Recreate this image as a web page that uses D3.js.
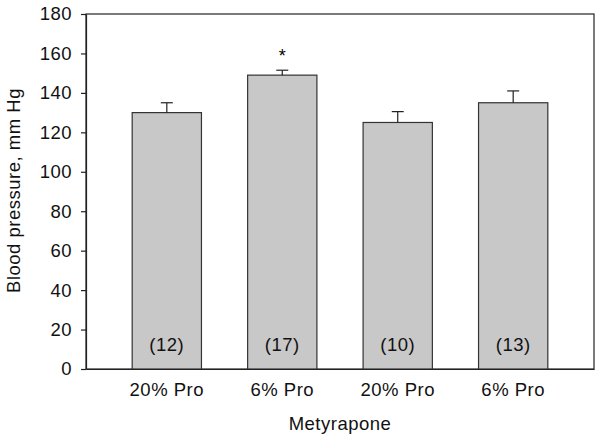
<!DOCTYPE html>
<meta charset="utf-8">
<style>
  body { margin: 0; background: #fff; }
  text { font-family: "Liberation Sans", Arial, sans-serif; letter-spacing: 0.5px; }
</style>
<body>
  <div id="chart"></div>
  <script src="https://d3js.org/d3.v7.min.js"></script>
  <script>
    // values
    var groups = ["20% Pro", "6% Pro", "20% Pro", "6% Pro"];
    var means = [130, 149, 125, 135];
    var errors = [5, 2.5, 5.5, 6];
    var counts = ["(12)", "(17)", "(10)", "(13)"];
    var stars = ["", "*", "", ""];
    var yTicks = [0, 20, 40, 60, 80, 100, 120, 140, 160, 180];

    var margin = { top: 14, right: 6, bottom: 68, left: 86 },
      width = 600 - margin.left - margin.right,
      height = 437 - margin.top - margin.bottom;

    var svg = d3.select("#chart")
      .append("svg")
      .attr("width", 600)
      .attr("height", 437)
      .append("g")
      .attr("transform", "translate(" + margin.left + "," + margin.top + ")");

    var x = d3.scaleBand()
      .domain(d3.range(groups.length))
      .range([0, width])
      .paddingInner(0.4)
      .paddingOuter(0.4);

    var y = d3.scaleLinear()
      .domain([0, 180])
      .range([height, 0]);

    // frame (top and right)
    svg.append("rect")
      .attr("x", 0).attr("y", 0)
      .attr("width", width).attr("height", height)
      .style("fill", "none")
      .style("stroke", "#222")
      .style("stroke-width", 1.2);

    // bars
    svg.selectAll(".bar")
      .data(means)
      .enter().append("rect")
      .attr("class", "bar")
      .attr("x", function(d, i) { return x(i); })
      .attr("y", function(d) { return y(d); })
      .attr("width", x.bandwidth())
      .attr("height", function(d) { return height - y(d); })
      .style("fill", "#c8c8c8")
      .style("stroke", "#333")
      .style("stroke-width", 1.2);

    // error bars (upper only)
    var err = svg.selectAll(".err")
      .data(means)
      .enter().append("g")
      .attr("class", "err")
      .style("stroke", "#222")
      .style("stroke-width", 1.2);

    err.append("line")
      .attr("x1", function(d, i) { return x(i) + x.bandwidth() / 2; })
      .attr("x2", function(d, i) { return x(i) + x.bandwidth() / 2; })
      .attr("y1", function(d) { return y(d); })
      .attr("y2", function(d, i) { return y(d + errors[i]); });

    err.append("line")
      .attr("x1", function(d, i) { return x(i) + x.bandwidth() / 2 - 6; })
      .attr("x2", function(d, i) { return x(i) + x.bandwidth() / 2 + 6; })
      .attr("y1", function(d, i) { return y(d + errors[i]); })
      .attr("y2", function(d, i) { return y(d + errors[i]); });

    // significance marks
    svg.selectAll(".star")
      .data(stars)
      .enter().append("text")
      .attr("class", "star")
      .attr("x", function(d, i) { return x(i) + x.bandwidth() / 2; })
      .attr("y", function(d, i) { return y(means[i] + errors[i]) - 8; })
      .attr("text-anchor", "middle")
      .style("font-size", "18px")
      .style("letter-spacing", "0px")
      .style("fill", "#000")
      .text(function(d) { return d; });

    // n labels inside bars
    svg.selectAll(".count")
      .data(counts)
      .enter().append("text")
      .attr("class", "count")
      .attr("x", function(d, i) { return x(i) + x.bandwidth() / 2; })
      .attr("y", height - 18)
      .attr("text-anchor", "middle")
      .style("font-size", "18.5px")
      .style("fill", "#111")
      .text(function(d) { return d; });

    // Y axis
    var yAxis = svg.append("g")
      .call(d3.axisLeft(y)
        .tickValues(yTicks)
        .tickSize(5)
        .tickPadding(9)
        .tickSizeOuter(0));
    yAxis.selectAll("text")
      .style("font-size", "18.5px")
      .style("fill", "#111")
      .style("font-family", "'Liberation Sans', Arial, sans-serif");
    yAxis.selectAll("line, path").style("stroke", "#222").style("stroke-width", 1.2);

    // X axis
    var xAxis = svg.append("g")
      .attr("transform", "translate(0," + height + ")")
      .call(d3.axisBottom(x)
        .tickFormat(function(i) { return groups[i]; })
        .tickSize(0)
        .tickPadding(14)
        .tickSizeOuter(0));
    xAxis.selectAll("text")
      .style("font-size", "18.5px")
      .style("fill", "#111")
      .style("font-family", "'Liberation Sans', Arial, sans-serif");
    xAxis.select(".domain").style("stroke", "#222").style("stroke-width", 1.2);

    // axis titles
    svg.append("text")
      .attr("x", width / 2)
      .attr("y", height + 61)
      .attr("text-anchor", "middle")
      .style("font-size", "18.5px")
      .style("fill", "#111")
      .text("Metyrapone");

    svg.append("text")
      .attr("transform", "translate(" + (19.5 - margin.left) + "," + (190.5 - margin.top) + ") rotate(-90)")
      .attr("text-anchor", "middle")
      .style("font-size", "18.5px")
      .style("fill", "#111")
      .text("Blood pressure, mm Hg");
  </script>
</body>
